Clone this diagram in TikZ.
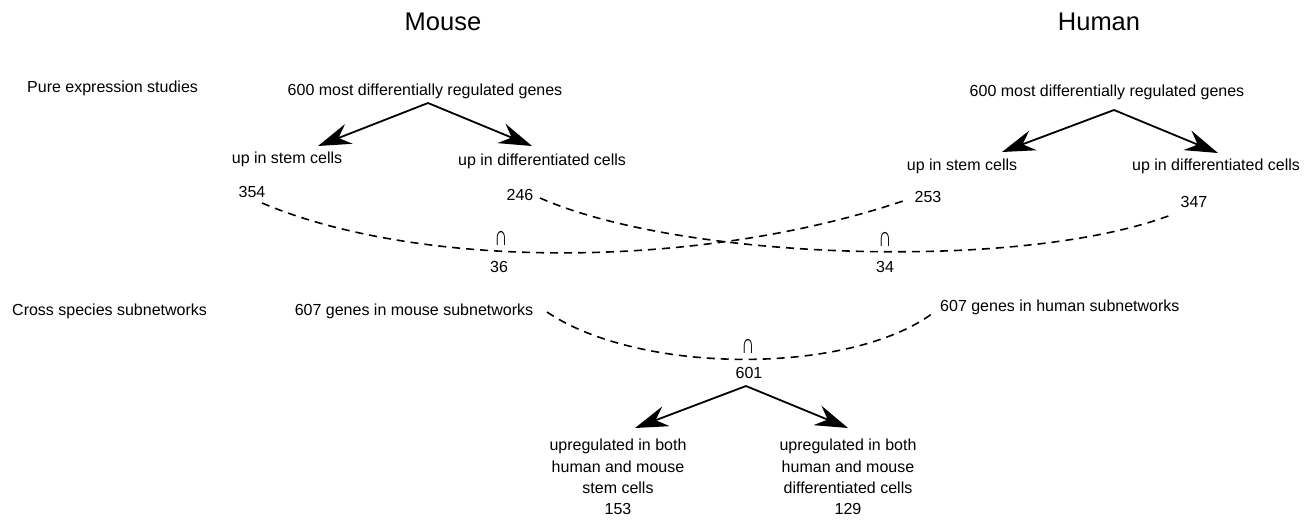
\documentclass[tikz,border=0pt]{standalone}
\usepackage{fontspec}
\setmainfont{Liberation Sans}
\usetikzlibrary{arrows.meta}
\newcommand{\meetsym}{\scalebox{1.15}[1.75]{∩}}
\begin{document}
\begin{tikzpicture}[x=1pt,y=-1pt,
  lbl/.style={font=\fontsize{16}{21.3}\selectfont, inner sep=0pt, align=center},
  ttl/.style={font=\fontsize{25.5}{30}\selectfont, inner sep=0pt},
  capsym/.style={font=\fontsize{16}{18}\selectfont, inner sep=0pt},
  split/.style={line width=1.8pt, -{Stealth[length=33pt,width=21pt,inset=11pt]}},
  overlap/.style={line width=1.6pt, dash pattern=on 8pt off 6pt},
]
\useasboundingbox (0,0) rectangle (1308,520);

% column titles
\node[ttl] (tmouse) at (443,22) {Mouse};
\node[ttl] (thuman) at (1099,22) {Human};

% row labels
\node[lbl, anchor=west] (rpure)  at (27,88)  {Pure expression studies};
\node[lbl, anchor=west] (rcross) at (12,311) {Cross species subnetworks};

% mouse expression split
\node[lbl] (m600)  at (425,91)  {600 most differentially regulated genes};
\node[lbl] (mstem) at (287,159) {up in stem cells};
\node[lbl, anchor=west] (mdiff) at (458,161) {up in differentiated cells};
\node[lbl] (m354)  at (252,192) {354};
\node[lbl] (m246)  at (520,195) {246};
\coordinate (m600s) at (428,103);
\coordinate (mstemt) at (318,146);
\coordinate (mdifft) at (532,146);
\draw[split] (m600s) -- (mstemt);
\draw[split] (m600s) -- (mdifft);

% human expression split
\node[lbl] (h600)  at (1107,92)  {600 most differentially regulated genes};
\node[lbl] (hstem) at (962,166) {up in stem cells};
\node[lbl] (hdiff) at (1216,166) {up in differentiated cells};
\node[lbl] (h253)  at (928,197) {253};
\node[lbl] (h347)  at (1194,202) {347};
\coordinate (h600s) at (1114,110);
\coordinate (hstemt) at (1002,152);
\coordinate (hdifft) at (1218,153);
\draw[split] (h600s) -- (hstemt);
\draw[split] (h600s) -- (hdifft);

% stem-cell overlap
\coordinate (c1a) at (262,203);
\coordinate (c1b) at (906,200);
\draw[overlap] (c1a) .. controls (420,270) and (700,270) .. (c1b);
\node[capsym] (cap1) at (501,238) {\meetsym};
\node[lbl] (n36)  at (499,267) {36};

% differentiated-cell overlap
\coordinate (c2a) at (540,198);
\coordinate (c2b) at (1171,215);
\draw[overlap] (c2a) .. controls (680,260) and (1020,272) .. (c2b);
\node[capsym] (cap2) at (885,239) {\meetsym};
\node[lbl] (n34)  at (885,267) {34};

% subnetwork genes
\node[lbl] (msub) at (414,311) {607 genes in mouse subnetworks};
\node[lbl, anchor=west] (hsub) at (940,307) {607 genes in human subnetworks};
\coordinate (c3a) at (547,312);
\coordinate (c3b) at (933,313);
\draw[overlap] (c3a) .. controls (640,375) and (850,375) .. (c3b);
\node[capsym] (cap3) at (748,346) {\meetsym};
\node[lbl] (n601) at (749,373) {601};

% split of the shared genes
\coordinate (s601) at (746,386);
\coordinate (bstemt) at (635,428);
\coordinate (bdifft) at (848,428);
\draw[split] (s601) -- (bstemt);
\draw[split] (s601) -- (bdifft);
\node[lbl] (bstem) at (618,477) {upregulated in both\\human and mouse\\stem cells\\153};
\node[lbl] (bdiff) at (848,477) {upregulated in both\\human and mouse\\differentiated cells\\129};
\end{tikzpicture}
\end{document}
